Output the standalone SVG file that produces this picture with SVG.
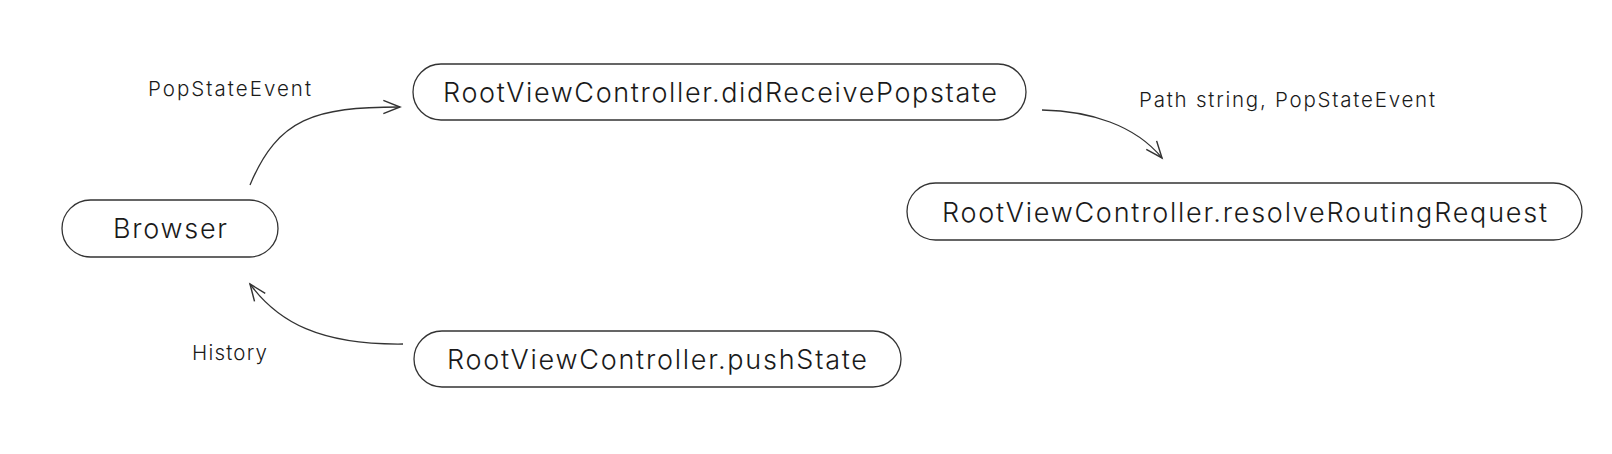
<svg xmlns="http://www.w3.org/2000/svg" width="1612" height="454" viewBox="0 0 1612 454">
<style>
.node rect{fill:#fff;stroke:#333;stroke-width:1.3}
.node text{font-family:Inter,"Liberation Sans",sans-serif;font-size:27px;font-weight:300;fill:#1a1a1a;text-anchor:middle}
.lbl{font-family:Inter,"Liberation Sans",sans-serif;font-size:20.5px;font-weight:300;fill:#1a1a1a}
.edge{fill:none;stroke:#333;stroke-width:1.3;marker-end:url(#arr)}
</style>
<defs>
<marker id="arr" markerUnits="userSpaceOnUse" markerWidth="20" markerHeight="20" viewBox="-16 -8 18 16" refX="0" refY="0" orient="auto">
<path d="M-15,-6 L0,0 L-15,6" fill="none" stroke="#333" stroke-width="1.3"/>
</marker>
</defs>
<rect width="1612" height="454" fill="#fff"/>
<g id="edges">
<path class="edge" d="M250,185 C278,118 315,107 400,107"/>
<path class="edge" d="M1042,110 C1090,111 1135,125 1162,158"/>
<path class="edge" d="M403,344 C320,345 278,322 250,284"/>
<text class="lbl" x="148" y="96" textLength="163">PopStateEvent</text>
<text class="lbl" x="1139" y="107" textLength="296">Path string, PopStateEvent</text>
<text class="lbl" x="192" y="360" textLength="75">History</text>
</g>
<g id="browser" class="node">
<rect x="62" y="200" width="216" height="57" rx="28.5"/>
<text x="170" y="238" textLength="114">Browser</text>
</g>
<g id="didReceivePopstate" class="node">
<rect x="413" y="64" width="613" height="56" rx="28"/>
<text x="720" y="102" textLength="554">RootViewController.didReceivePopstate</text>
</g>
<g id="resolveRoutingRequest" class="node">
<rect x="907" y="183" width="675" height="57" rx="28.5"/>
<text x="1244.5" y="222" textLength="605">RootViewController.resolveRoutingRequest</text>
</g>
<g id="pushState" class="node">
<rect x="414" y="331" width="487" height="56" rx="28"/>
<text x="657" y="369" textLength="420">RootViewController.pushState</text>
</g>
</svg>
